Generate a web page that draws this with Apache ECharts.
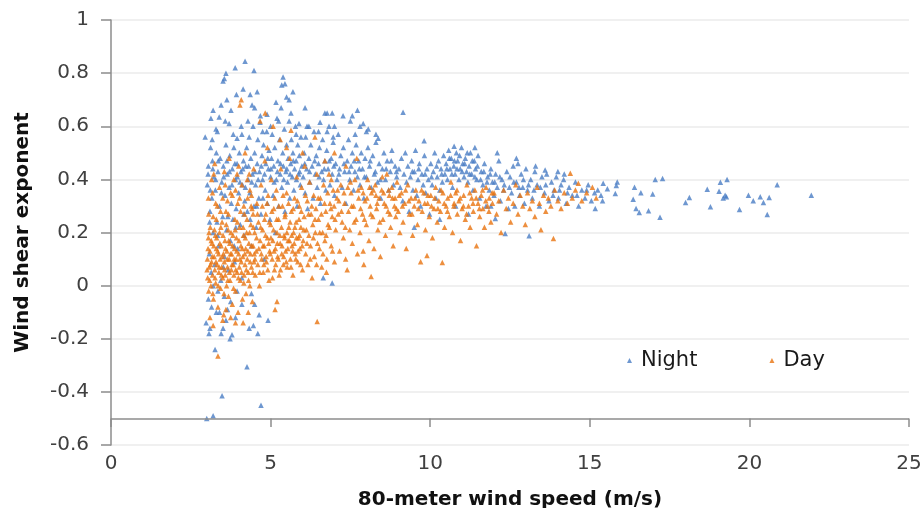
<!DOCTYPE html>
<html>
<head>
<meta charset="utf-8">
<script src="https://cdn.jsdelivr.net/npm/echarts@6/dist/echarts.min.js"></script>
<style>html,body{margin:0;padding:0;background:#fff}#c{width:924px;height:508px}</style>
</head>
<body>
<div id="c"></div>
<script>
var seriesNames = ["Night", "Day"];
var xTicks = [0, 5, 10, 15, 20, 25];
var yTicks = [-0.6, -0.4, -0.2, 0, 0.2, 0.4, 0.6, 0.8, 1];
var xAxisLineAt = -0.5;

var nightPoints = [
[15.42,0.385],[15.55,0.365],[15.83,0.377],[15.86,0.39],[15.8,0.347],[15.4,0.32],[16.4,0.37],[16.36,0.325],[16.6,0.35],[16.45,0.29],[16.55,0.275],[16.84,0.282],[16.97,0.345],[17.05,0.40],[17.28,0.403],[17.2,0.257],[18.0,0.313],[18.12,0.332],[18.68,0.363],[18.78,0.297],[19.05,0.355],[19.09,0.389],[19.3,0.40],[19.18,0.33],[19.24,0.34],[19.28,0.335],[19.69,0.287],[19.97,0.34],[20.12,0.32],[20.34,0.335],[20.44,0.313],[20.62,0.332],[20.56,0.268],[20.87,0.38],[21.94,0.34],
[3.0,-0.5],[3.2,-0.49],[3.48,-0.415],[4.26,-0.305],[4.7,-0.45],[3.26,-0.24],[3.73,-0.2],[3.79,-0.185],[3.07,-0.18],[2.98,-0.14],[3.45,-0.18],[4.6,-0.18],[4.33,-0.16],[4.46,-0.15],[4.92,-0.13],[4.64,-0.11],[3.1,-0.16],[3.51,-0.16],[3.15,-0.08],[3.3,-0.1],[3.4,-0.1],[3.6,-0.13],[3.65,-0.09],[3.9,-0.12],[4.1,-0.07],[4.5,-0.07],[3.05,-0.05],[3.55,-0.04],[4.4,-0.03],[3.2,0.0],[3.35,-0.02],[3.75,-0.06],[3.95,-0.02],[6.65,0.03],[6.93,0.01],
[4.2,0.845],[3.89,0.82],[4.48,0.81],[3.6,0.80],[3.51,0.77],[3.55,0.78],[5.39,0.785],[5.45,0.76],[5.35,0.755],[4.14,0.74],[4.58,0.73],[4.36,0.72],[3.63,0.70],[5.5,0.71],[5.58,0.70],[5.17,0.69],[5.7,0.73],[3.2,0.66],[3.76,0.66],[4.42,0.68],[4.5,0.67],[5.64,0.65],[6.08,0.67],[4.89,0.645],[3.39,0.635],[3.29,0.59],[3.7,0.61],[4.29,0.62],[4.67,0.615],[5.89,0.61],[6.77,0.65],[6.93,0.65],[7.27,0.64],[2.95,0.56],[3.17,0.55],[3.95,0.555],[4.1,0.57],[4.75,0.58],[5.0,0.6],[5.25,0.62],[5.8,0.57],[6.2,0.6],[6.5,0.58],[7.0,0.6],[7.5,0.62],[7.8,0.6],[8.0,0.58],[8.3,0.57],[6.7,0.65],[7.56,0.64],[7.72,0.66],[9.15,0.653],[6.14,0.6],[6.55,0.615],[7.9,0.61],[8.06,0.59],[6.77,0.58],[6.96,0.56],[7.65,0.57],[8.37,0.555],[9.81,0.545],[10.75,0.525],[11.4,0.52],[12.1,0.5],[12.7,0.48],[13.3,0.45],[13.6,0.435],[14.0,0.43],[14.2,0.42],
[3.02,0.38],[3.05,0.45],[3.08,0.12],[3.1,0.28],[3.12,0.52],[3.14,0.05],[3.16,0.33],[3.18,0.47],[3.2,0.2],[3.22,0.41],[3.25,0.08],[3.27,0.36],[3.3,0.5],[3.32,0.24],[3.35,0.43],[3.37,0.15],[3.4,0.3],[3.42,0.48],[3.44,0.02],[3.47,0.39],[3.5,0.26],[3.52,0.45],[3.55,0.11],[3.57,0.34],[3.6,0.53],[3.62,0.21],[3.64,0.42],[3.67,0.06],[3.7,0.37],[3.72,0.49],[3.74,0.17],[3.77,0.31],[3.8,0.44],[3.82,0.25],[3.85,0.52],[3.87,0.09],[3.9,0.4],[3.92,0.29],[3.95,0.46],[3.97,0.14],[4.0,0.35],[4.02,0.5],[4.05,0.23],[4.07,0.43],[4.1,0.03],[4.12,0.38],[4.15,0.47],[4.17,0.19],[4.19,0.32],[3.33,0.58],[3.58,0.62],[3.83,0.57],[4.08,0.6],[3.13,0.63],[3.45,0.68],[3.93,0.72],
[4.22,0.45],[4.25,0.52],[4.27,0.28],[4.3,0.4],[4.33,0.56],[4.35,0.35],[4.38,0.48],[4.4,0.15],[4.43,0.42],[4.45,0.6],[4.48,0.3],[4.5,0.5],[4.53,0.38],[4.55,0.22],[4.58,0.46],[4.6,0.55],[4.63,0.33],[4.65,0.43],[4.68,0.64],[4.7,0.27],[4.73,0.49],[4.75,0.4],[4.78,0.53],[4.8,0.1],[4.83,0.36],[4.85,0.46],[4.88,0.58],[4.9,0.31],[4.93,0.44],[4.95,0.51],[4.98,0.25],[5.0,0.41],[5.03,0.48],[5.05,0.57],[5.08,0.34],[5.1,0.45],[5.13,0.52],[5.15,0.2],[5.18,0.4],[5.2,0.63],[5.23,0.47],[5.25,0.3],[5.28,0.55],[5.3,0.42],[5.33,0.67],[5.35,0.37],[5.38,0.5],[5.4,0.45],[5.43,0.59],[5.45,0.28],[5.48,0.43],[5.5,0.53],[5.53,0.39],[5.55,0.48],[5.58,0.62],[5.6,0.33],[5.63,0.46],[5.65,0.55],[5.68,0.41],[5.7,0.5],[5.73,0.36],[5.75,0.44],[5.78,0.6],[5.8,0.47],[5.83,0.3],[5.85,0.53],[5.88,0.42],[5.9,0.49],[5.93,0.38],[5.95,0.56],[5.98,0.45],
[6.02,0.41],[6.05,0.5],[6.08,0.35],[6.1,0.56],[6.13,0.44],[6.16,0.29],[6.2,0.48],[6.23,0.39],[6.26,0.53],[6.3,0.45],[6.33,0.33],[6.36,0.58],[6.4,0.42],[6.43,0.49],[6.46,0.37],[6.5,0.46],[6.53,0.52],[6.56,0.31],[6.6,0.43],[6.63,0.55],[6.66,0.4],[6.7,0.47],[6.73,0.36],[6.76,0.51],[6.8,0.44],[6.83,0.6],[6.86,0.38],[6.9,0.48],[6.93,0.42],[6.96,0.54],[7.0,0.34],[7.04,0.46],[7.08,0.4],[7.12,0.57],[7.16,0.44],[7.2,0.49],[7.24,0.37],[7.28,0.52],[7.32,0.43],[7.36,0.31],[7.4,0.47],[7.44,0.55],[7.48,0.4],[7.52,0.45],[7.56,0.5],[7.6,0.36],[7.64,0.43],[7.68,0.53],[7.72,0.41],[7.76,0.47],[7.8,0.38],[7.84,0.5],[7.88,0.44],[7.92,0.33],[7.96,0.48],[8.0,0.41],[8.05,0.52],[8.1,0.45],[8.15,0.37],[8.2,0.49],[8.25,0.42],[8.3,0.54],[8.35,0.39],[8.4,0.46],[8.45,0.33],[8.5,0.44],[8.55,0.5],[8.6,0.4],[8.65,0.47],[8.7,0.36],[8.75,0.43],[8.8,0.51],[8.85,0.38],[8.9,0.45],[8.95,0.41],
[9.02,0.44],[9.06,0.37],[9.1,0.48],[9.14,0.32],[9.18,0.42],[9.22,0.5],[9.26,0.39],[9.3,0.45],[9.34,0.28],[9.38,0.41],[9.42,0.47],[9.46,0.36],[9.5,0.43],[9.54,0.51],[9.58,0.34],[9.62,0.4],[9.66,0.46],[9.7,0.3],[9.74,0.42],[9.78,0.38],[9.82,0.49],[9.86,0.35],[9.9,0.44],[9.94,0.4],[9.98,0.27],[10.02,0.46],[10.06,0.38],[10.1,0.43],[10.14,0.5],[10.18,0.33],[10.22,0.41],[10.26,0.47],[10.3,0.36],[10.34,0.44],[10.38,0.39],[10.42,0.49],[10.46,0.42],[10.5,0.46],[10.54,0.4],[10.58,0.51],[10.62,0.44],[10.66,0.48],[10.7,0.37],[10.74,0.45],[10.78,0.42],[10.82,0.5],[10.86,0.47],[10.9,0.4],[10.94,0.44],[10.98,0.52],[11.02,0.46],[11.06,0.41],[11.1,0.48],[11.14,0.43],[11.18,0.39],[11.22,0.45],[11.26,0.5],[11.3,0.42],[11.34,0.36],[11.38,0.47],[11.42,0.44],[11.46,0.4],[11.5,0.49],[11.55,0.33],[11.6,0.43],[11.65,0.38],[11.7,0.46],[11.75,0.3],[11.8,0.41],[11.85,0.36],[11.9,0.44],[11.95,0.39],[12.0,0.34],[12.05,0.42],[12.1,0.37],[12.15,0.47],[12.2,0.32],[12.25,0.4],[12.3,0.36],[12.35,0.196],[12.4,0.43],[12.45,0.29],[12.04,0.253],[11.9,0.3],[9.5,0.22],[10.3,0.25],[11.2,0.27],[10.8,0.3],
[12.5,0.41],[12.55,0.35],[12.6,0.45],[12.65,0.3],[12.7,0.39],[12.75,0.46],[12.8,0.34],[12.85,0.42],[12.9,0.37],[12.95,0.31],[13.0,0.44],[13.05,0.36],[13.1,0.188],[13.15,0.4],[13.2,0.33],[13.28,0.43],[13.35,0.38],[13.42,0.3],[13.5,0.41],[13.58,0.35],[13.65,0.42],[13.72,0.32],[13.8,0.39],[13.88,0.36],[13.95,0.41],[14.02,0.33],[14.1,0.38],[14.18,0.4],[14.26,0.31],[14.35,0.37],[14.45,0.34],[14.55,0.39],[14.65,0.3],[14.75,0.36],[14.85,0.33],[14.95,0.38],[15.05,0.32],[15.17,0.29],[15.25,0.36],[15.35,0.34],
[3.04,0.42],[3.11,0.36],[3.19,0.44],[3.28,0.4],[3.36,0.47],[3.46,0.35],[3.53,0.41],[3.63,0.47],[3.71,0.43],[3.79,0.38],[3.88,0.46],[3.96,0.41],[4.04,0.39],[4.13,0.44],[4.21,0.37],[4.31,0.45],[4.41,0.39],[4.51,0.43],[4.61,0.4],[4.71,0.45],[4.81,0.42],[4.91,0.48],[5.01,0.44],[5.11,0.39],[5.21,0.43],[5.31,0.46],[5.41,0.4],[5.51,0.44],[5.61,0.42],[5.71,0.47],[5.81,0.4],[5.91,0.43],[6.07,0.46],[6.22,0.43],[6.38,0.47],[6.52,0.41],[6.68,0.44],[6.84,0.47],[6.98,0.45],[7.14,0.42],[7.3,0.46],[7.46,0.43],[7.62,0.47],[7.78,0.44],[7.94,0.41],[8.12,0.47],[8.28,0.43],[8.44,0.4],[8.62,0.44],[8.78,0.47],[8.94,0.43],[9.44,0.43],[9.64,0.44],[9.84,0.42],[10.04,0.41],[10.2,0.45],[10.36,0.42],[10.52,0.44],[10.6,0.48],[10.68,0.42],[10.76,0.47],[10.84,0.44],[10.92,0.49],[11.0,0.43],[11.08,0.46],[11.16,0.5],[11.24,0.42],[11.32,0.47],[11.4,0.41],[11.48,0.45],[11.58,0.4],[11.68,0.43],[11.78,0.39],[11.88,0.42],[12.02,0.39],[12.18,0.41],[12.32,0.38],[12.48,0.37],[12.62,0.39],[12.78,0.37],[12.92,0.4],[13.08,0.38],[13.25,0.36],[13.45,0.37],[13.62,0.38],[13.85,0.34],[14.05,0.36],[14.3,0.35],[14.6,0.34],[14.9,0.36],[15.15,0.35],
[3.09,0.24],[3.34,0.19],[3.66,0.26],[3.91,0.22],[4.16,0.27],[4.36,0.25],[4.56,0.3],[4.76,0.33],[3.52,0.07],[3.86,0.15]
];

var dayPoints = [
[3.02,0.1],[3.03,0.03],[3.05,0.18],[3.06,-0.02],[3.08,0.07],[3.1,0.13],[3.11,0.22],[3.13,0.0],[3.15,0.09],[3.16,0.16],[3.18,0.04],[3.2,0.26],[3.21,-0.05],[3.23,0.11],[3.25,0.06],[3.27,0.19],[3.28,0.01],[3.3,0.14],[3.32,0.08],[3.33,0.3],[3.35,-0.08],[3.37,0.12],[3.38,0.05],[3.4,0.2],[3.42,0.1],[3.43,-0.01],[3.45,0.15],[3.47,0.07],[3.48,0.24],[3.5,0.03],[3.52,0.12],[3.53,-0.11],[3.55,0.09],[3.57,0.17],[3.58,0.04],[3.6,0.28],[3.62,0.0],[3.63,0.13],[3.65,0.07],[3.67,0.21],[3.68,-0.04],[3.7,0.1],[3.72,0.16],[3.73,0.02],[3.75,0.35],[3.77,0.06],[3.78,0.12],[3.8,-0.07],[3.82,0.19],[3.83,0.08],[3.85,0.04],[3.87,0.14],[3.88,0.25],[3.9,-0.02],[3.92,0.1],[3.93,0.18],[3.95,0.05],[3.97,0.31],[3.98,-0.1],[4.0,0.12],[4.02,0.07],[4.03,0.22],[4.05,0.02],[4.07,0.15],[4.08,0.09],[4.1,0.38],[4.12,-0.05],[4.13,0.11],[4.15,0.19],[4.17,0.04],[4.18,0.27],[4.2,0.08],[4.22,0.14],[4.23,-0.03],[4.25,0.2],[4.27,0.1],[4.28,0.33],[4.3,0.05],[4.32,0.16],[4.33,0.42],[4.35,0.0],[4.37,0.12],[4.38,0.23],[4.4,0.07],[4.42,0.29],[4.43,-0.06],[4.45,0.15],[4.47,0.44],[4.48,0.09],
[3.05,0.33],[3.15,0.4],[3.25,0.46],[3.4,0.37],[3.55,0.43],[3.7,0.48],[3.85,0.4],[3.65,0.32],[4.0,0.45],[4.2,0.5],[4.35,0.36],[3.3,0.25],[3.9,0.36],[4.08,0.7],[4.04,0.68],[3.1,-0.12],[3.2,-0.15],[3.5,-0.13],[3.9,-0.14],[4.14,-0.14],[3.35,-0.265],[3.6,-0.09],[3.75,-0.12],[4.3,-0.1],
[4.5,0.2],[4.52,0.04],[4.55,0.13],[4.57,0.31],[4.6,0.08],[4.62,0.24],[4.65,0.0],[4.67,0.17],[4.7,0.38],[4.72,0.1],[4.75,0.21],[4.77,0.05],[4.8,0.15],[4.82,0.47],[4.85,0.27],[4.87,0.09],[4.9,0.18],[4.92,0.34],[4.95,0.02],[4.97,0.13],[5.0,0.23],[5.02,0.4],[5.05,0.1],[5.07,0.17],[5.1,0.29],[5.12,0.06],[5.14,-0.09],[5.15,0.14],[5.18,0.36],[5.2,0.2],[5.2,-0.06],[5.22,0.11],[5.25,0.25],[5.27,0.04],[5.3,0.16],[5.32,0.44],[5.35,0.12],[5.37,0.3],[5.4,0.08],[5.42,0.19],[5.45,0.26],[5.47,0.13],[5.5,0.35],[5.52,0.07],[5.55,0.17],[5.57,0.22],[5.6,0.48],[5.62,0.1],[5.65,0.28],[5.67,0.15],[5.7,0.04],[5.72,0.2],[5.75,0.33],[5.77,0.12],[5.8,0.24],[5.82,0.41],[5.85,0.09],[5.87,0.18],[5.9,0.3],[5.92,0.14],[5.95,0.22],[5.97,0.37],[6.0,0.06],[6.02,0.17],[6.05,0.26],[6.07,0.45],[6.1,0.12],[6.12,0.21],[6.15,0.32],[6.17,0.08],[6.2,0.19],[6.22,0.39],[6.25,0.15],[6.27,0.27],[6.3,0.03],[6.32,0.23],[6.35,0.34],[6.37,0.11],[6.4,0.2],[6.42,0.29],[6.46,-0.135],[6.45,0.42],[6.47,0.16],
[4.67,0.62],[5.08,0.6],[5.64,0.585],[6.39,0.56],[4.83,0.65],[5.5,0.52],[6.0,0.5],[4.9,0.52],[5.3,0.55],
[6.5,0.25],[6.53,0.14],[6.56,0.33],[6.6,0.07],[6.63,0.2],[6.66,0.38],[6.7,0.17],[6.73,0.28],[6.76,0.1],[6.8,0.23],[6.83,0.42],[6.86,0.31],[6.9,0.15],[6.93,0.26],[6.96,0.36],[7.0,0.09],[7.04,0.21],[7.08,0.33],[7.12,0.27],[7.16,0.13],[7.2,0.38],[7.24,0.24],[7.28,0.18],[7.32,0.31],[7.36,0.45],[7.4,0.06],[7.44,0.28],[7.48,0.21],[7.52,0.35],[7.56,0.16],[7.6,0.3],[7.64,0.4],[7.68,0.25],[7.72,0.12],[7.76,0.33],[7.8,0.2],[7.84,0.37],[7.88,0.27],[7.92,0.08],[7.96,0.32],[8.0,0.23],[8.04,0.4],[8.08,0.17],[8.12,0.3],[8.15,0.034],[8.16,0.35],[8.2,0.26],[8.24,0.14],[8.28,0.38],[8.32,0.29],[8.36,0.21],[8.4,0.33],[8.44,0.11],[8.48,0.36],[8.52,0.25],[8.56,0.31],[8.6,0.19],[8.64,0.42],[8.68,0.28],[8.72,0.34],[8.76,0.22],[8.8,0.37],[8.84,0.15],[8.88,0.3],[8.92,0.26],[8.96,0.39],
[7.1,0.36],[7.5,0.39],[7.9,0.35],[8.3,0.34],[8.7,0.36],[6.9,0.4],[7.3,0.35],[8.1,0.37],[8.5,0.41],[8.9,0.33],[6.7,0.47],[7.7,0.48],[7.0,0.5],[6.75,0.05],[7.35,0.1],[7.9,0.13],
[9.0,0.28],[9.05,0.2],[9.1,0.35],[9.15,0.24],[9.2,0.31],[9.25,0.14],[9.3,0.38],[9.35,0.27],[9.4,0.33],[9.45,0.19],[9.5,0.3],[9.55,0.36],[9.6,0.23],[9.65,0.32],[9.7,0.09],[9.75,0.28],[9.8,0.35],[9.85,0.21],[9.9,0.113],[9.92,0.31],[9.97,0.26],[10.02,0.34],[10.07,0.18],[10.12,0.29],[10.17,0.37],[10.22,0.24],[10.27,0.32],[10.32,0.28],[10.38,0.087],[10.4,0.35],[10.45,0.22],[10.5,0.3],[10.55,0.33],[10.6,0.26],[10.65,0.39],[10.7,0.2],[10.75,0.31],[10.8,0.35],[10.85,0.27],[10.9,0.32],[10.95,0.17],[11.0,0.29],[11.05,0.34],[11.1,0.25],[11.15,0.38],[11.2,0.3],[11.25,0.22],[11.3,0.33],[11.35,0.28],[11.4,0.36],[11.45,0.15],[11.5,0.31],[11.55,0.26],[11.6,0.34],[11.65,0.29],[11.7,0.22],[11.75,0.37],[11.8,0.3],[11.85,0.33],[11.9,0.24],[11.95,0.31],
[12.0,0.35],[12.08,0.27],[12.15,0.32],[12.22,0.2],[12.3,0.36],[12.38,0.29],[12.45,0.33],[12.52,0.24],[12.6,0.31],[12.68,0.38],[12.75,0.27],[12.82,0.34],[12.9,0.3],[12.98,0.23],[13.05,0.35],[13.12,0.29],[13.2,0.32],[13.28,0.26],[13.35,0.37],[13.42,0.31],[13.47,0.21],[13.55,0.34],[13.62,0.28],[13.7,0.33],[13.78,0.3],[13.86,0.177],[13.9,0.36],[14.0,0.32],[14.1,0.29],[14.2,0.35],[14.3,0.31],[14.39,0.423],[14.45,0.33],[14.55,0.36],[14.64,0.385],[14.75,0.32],[14.9,0.35],[15.08,0.37],[15.2,0.33],
[3.01,0.06],[3.04,0.14],[3.07,0.2],[3.09,0.02],[3.12,0.08],[3.14,0.17],[3.17,0.11],[3.19,-0.03],[3.22,0.15],[3.24,0.21],[3.26,0.03],[3.29,0.09],[3.31,0.18],[3.34,0.13],[3.36,0.0],[3.39,0.07],[3.41,0.16],[3.44,0.22],[3.46,0.04],[3.49,0.11],[3.51,0.19],[3.54,-0.03],[3.56,0.06],[3.59,0.14],[3.61,0.23],[3.64,0.1],[3.66,0.02],[3.69,0.17],[3.71,0.05],[3.74,0.12],[3.76,0.2],[3.79,0.08],[3.81,0.15],[3.84,-0.01],[3.86,0.1],[3.89,0.21],[3.91,0.06],[3.94,0.13],[3.96,0.24],[3.99,0.03],[4.01,0.17],[4.04,0.1],[4.06,0.28],[4.09,0.05],[4.11,0.14],[4.14,0.22],[4.16,0.01],[4.19,0.12],[4.21,0.18],[4.24,0.06],[4.26,0.25],[4.29,0.13],[4.31,0.02],[4.34,0.2],[4.36,0.09],[4.39,0.3],[4.41,0.15],[4.44,0.05],[4.46,0.22],[4.49,0.12],
[3.06,0.27],[3.18,0.35],[3.28,0.31],[3.43,0.28],[3.58,0.38],[3.68,0.27],[3.8,0.34],[3.95,0.42],[4.03,0.33],[4.16,0.3],[4.27,0.4],[4.4,0.34],[4.45,0.27],[3.5,0.33],[3.22,0.42],
[4.51,0.1],[4.56,0.18],[4.59,0.27],[4.63,0.14],[4.66,0.05],[4.69,0.22],[4.71,0.12],[4.74,0.3],[4.76,0.15],[4.79,0.08],[4.81,0.25],[4.84,0.19],[4.86,0.11],[4.89,0.31],[4.91,0.06],[4.94,0.16],[4.96,0.24],[4.99,0.12],[5.01,0.18],[5.04,0.28],[5.06,0.03],[5.09,0.21],[5.11,0.13],[5.13,0.33],[5.16,0.08],[5.19,0.25],[5.21,0.16],[5.24,0.1],[5.26,0.3],[5.29,0.19],[5.31,0.06],[5.34,0.22],[5.36,0.15],[5.39,0.34],[5.41,0.11],[5.44,0.18],[5.46,0.27],[5.49,0.09],[5.51,0.2],[5.54,0.14],[5.56,0.31],[5.59,0.17],[5.61,0.24],[5.64,0.07],[5.66,0.19],[5.69,0.13],[5.71,0.29],[5.74,0.16],[5.76,0.22],[5.79,0.1],[5.81,0.18],[5.84,0.32],[5.86,0.13],[5.89,0.25],[5.91,0.19],[5.94,0.08],[5.96,0.28],[5.99,0.15],[6.04,0.21],[6.09,0.34],[6.14,0.16],[6.19,0.27],[6.24,0.1],[6.29,0.3],[6.34,0.18],[6.39,0.25],[6.44,0.08],[6.49,0.33],[6.54,0.2],[6.59,0.27],[6.64,0.12],[6.69,0.31],[6.74,0.19],[6.79,0.35],[6.84,0.22],[6.89,0.29],[6.94,0.13],[6.99,0.3],
[7.02,0.25],[7.14,0.32],[7.22,0.28],[7.34,0.22],[7.42,0.37],[7.54,0.3],[7.62,0.24],[7.74,0.36],[7.82,0.29],[7.94,0.25],[8.02,0.33],[8.14,0.27],[8.22,0.36],[8.34,0.31],[8.42,0.24],[8.54,0.35],[8.62,0.3],[8.74,0.27],[8.82,0.33],[8.94,0.29],[9.03,0.34],[9.13,0.3],[9.23,0.36],[9.33,0.32],[9.43,0.27],[9.53,0.33],[9.63,0.29],[9.73,0.36],[9.83,0.31],[9.93,0.34],[10.04,0.3],[10.14,0.33],[10.24,0.29],[10.34,0.36],[10.44,0.31],[10.54,0.28],[10.64,0.34],[10.74,0.3],[10.84,0.36],[10.94,0.33],[11.04,0.3],[11.14,0.27],[11.24,0.35],[11.34,0.31],[11.44,0.33],[11.54,0.29],[11.64,0.36],[11.74,0.32],[11.84,0.28],[11.94,0.35]
];

var colors = ["#4a7dc4", "#e8730f"];
var axisGray = "#8c8c8c";
var FONT = "DejaVu Sans";

var chart = echarts.init(document.getElementById("c"), null, {renderer: "canvas"});
chart.setOption({
  animation: false,
  backgroundColor: "#ffffff",
  color: colors,
  textStyle: {fontFamily: FONT},
  grid: {left: 111, right: 15, top: 20, bottom: 63, containLabel: false, outerBoundsMode: "none"},
  legend: {
    data: seriesNames,
    left: 622, top: 345,
    icon: "triangle", itemWidth: 5, itemHeight: 5, itemGap: 72,
    textStyle: {fontFamily: FONT, fontSize: 21, color: "#1a1a1a", padding: [0, 0, 0, 4]}
  },
  xAxis: {
    type: "value", min: xTicks[0], max: xTicks[xTicks.length - 1], interval: 5,
    position: "bottom",
    name: "80-meter wind speed (m/s)", nameLocation: "middle", nameGap: 45,
    nameTextStyle: {fontFamily: FONT, fontSize: 20, fontWeight: "bold", color: "#111"},
    axisLine: {show: false, onZero: false},
    axisTick: {show: false},
    axisLabel: {margin: 9, fontSize: 20, color: "#404040", fontFamily: FONT},
    splitLine: {show: false}
  },
  yAxis: {
    type: "value", min: yTicks[0], max: yTicks[yTicks.length - 1], interval: 0.2,
    name: "Wind shear exponent", nameLocation: "middle", nameGap: 78,
    nameTextStyle: {fontFamily: FONT, fontSize: 20, fontWeight: "bold", color: "#111"},
    axisLine: {show: true, onZero: false, lineStyle: {color: axisGray, width: 1.5}},
    axisTick: {show: true, length: 10, lineStyle: {color: axisGray, width: 1.5}},
    axisLabel: {margin: 22, fontSize: 20, color: "#404040", fontFamily: FONT,
      formatter: function (v) { return String(Math.round(v * 10) / 10); }},
    splitLine: {show: true, lineStyle: {color: "#ebebeb", width: 1.5}}
  },
  series: [
    {name: seriesNames[0], type: "scatter", symbol: "triangle", symbolSize: 5.5, data: nightPoints, itemStyle: {color: colors[0]}, z: 3},
    {name: seriesNames[1], type: "scatter", symbol: "triangle", symbolSize: 5.5, data: dayPoints, itemStyle: {color: colors[1]}, z: 4},
    {
      name: "axisAtMinusHalf", type: "line", data: [], silent: true, z: 2,
      markLine: {
        silent: true, symbol: "none", animation: false, label: {show: false},
        lineStyle: {color: axisGray, width: 1.5, type: "solid"},
        data: [[{coord: [xTicks[0], xAxisLineAt]}, {coord: [xTicks[xTicks.length - 1], xAxisLineAt]}]]
          .concat(xTicks.map(function (t) {
            return [{coord: [t, xAxisLineAt]}, {coord: [t, xAxisLineAt - 0.032]}];
          }))
      }
    }
  ]
});
</script>
</body>
</html>
